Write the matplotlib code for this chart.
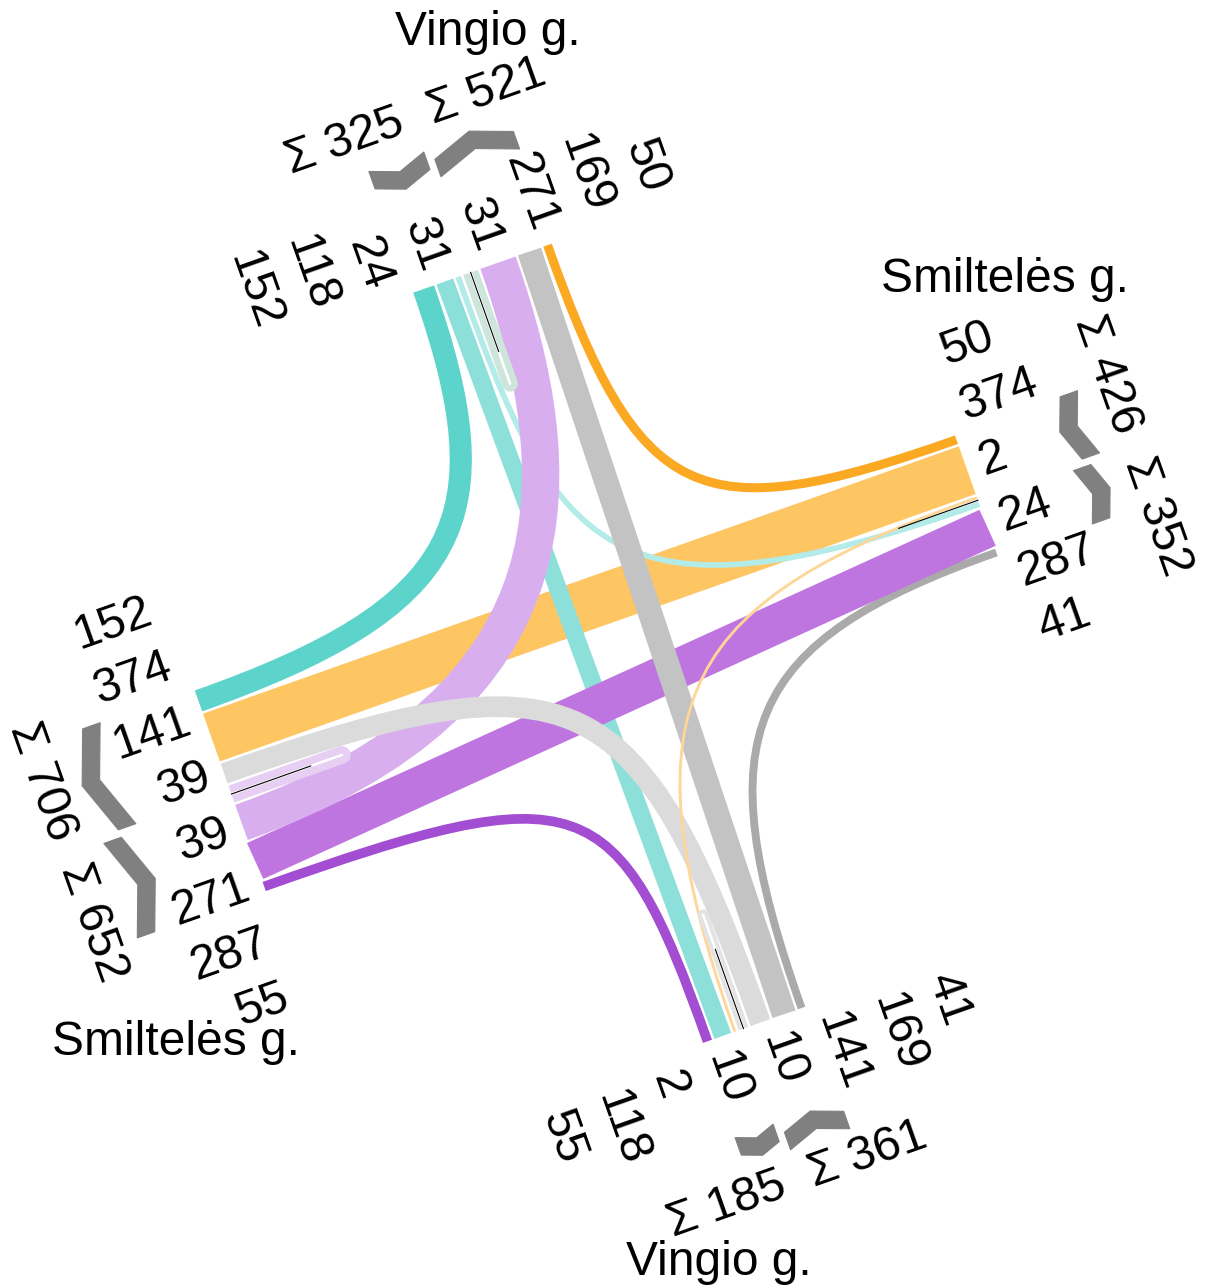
import numpy as np
import matplotlib
matplotlib.use('Agg')
import matplotlib.pyplot as plt
from matplotlib.path import Path
from matplotlib.patches import PathPatch, Polygon

plt.rcParams['font.family'] = ['Liberation Sans', 'DejaVu Sans']

# ── DATA: vehicles per movement (origin arm -> destination arm) ──
origin = ['N', 'N', 'N', 'N', 'E', 'E', 'E', 'S', 'S', 'S', 'S', 'W', 'W', 'W', 'W']
dest   = ['W', 'S', 'E', 'N', 'N', 'W', 'S', 'E', 'N', 'W', 'S', 'S', 'E', 'N', 'W']
volume = [152, 118, 24, 31, 50, 374, 2, 41, 169, 141, 10, 55, 287, 271, 39]
street = {'N': 'Vingio g.', 'E': 'Smiltelės g.', 'S': 'Vingio g.', 'W': 'Smiltelės g.'}

# ── LAYOUT (pixels) ─────────────────────────────
W_PX, H_PX = 1208, 1286
CX, CY = 606.0, 650.8            # junction centre
TILT = np.radians(19.5)          # whole drawing is turned
ARMS = ['N', 'E', 'S', 'W']
EDGE = {'N': 401.9, 'E': 400.8, 'S': 402.0, 'W': 400.9}
START = {'N': -63.5, 'E': -87.8, 'S': -40.8, 'W': -101.1}
NORM = {'N': (0, 1), 'E': (1, 0), 'S': (0, -1), 'W': (-1, 0)}
ALONG = {'N': (1, 0), 'E': (0, -1), 'S': (1, 0), 'W': (0, -1)}
HEAD = {'E': 0, 'N': 90, 'W': 180, 'S': 270}
PAD, PER_VEH, GAP = 5.13, 0.1283, 2.5
FS = 34.5
CAP = 0.716 * FS * 100 / 72
LABEL_STEP = 58.5
LABEL_SHIFT = {'N': 0, 'E': -9, 'S': 3, 'W': 0}
SUM_DIST = {'N': 170, 'E': 168, 'S': 156, 'W': 169}

PALETTE = {
    'N': {'R': '#5cd3cb', 'S': '#8ddfd9', 'L': '#b3ebe9', 'U': '#cde5db'},
    'E': {'R': '#fba823', 'S': '#fec663', 'L': '#fed697'},
    'S': {'R': '#aaaaaa', 'S': '#c3c3c3', 'L': '#dbdbdb', 'U': '#e3e3e3'},
    'W': {'R': '#a24dd2', 'S': '#be75df', 'L': '#d9aeee', 'U': '#e6cff3'},
}
# layering and bend of each movement
ZORD = {('E', 'W'): 2, ('N', 'S'): 3, ('N', 'E'): 4, ('W', 'E'): 5, ('W', 'N'): 6,
        ('S', 'N'): 7, ('S', 'W'): 8, ('E', 'S'): 9}
BEND = {('N', 'W'): (0.78, 0.8), ('E', 'N'): (0.86, 0.86), ('W', 'S'): (0.92, 0.92),
        ('S', 'E'): (0.8, 0.8), ('N', 'E'): (0.75, 0.95), ('W', 'N'): (0.85, 0.5),
        ('S', 'W'): (0.88, 0.88), ('E', 'S'): (0.75, 0.85)}

c, s_ = np.cos(TILT), np.sin(TILT)


def to_img(p):
    p = np.atleast_2d(p)
    return np.column_stack([CX + p[:, 0] * c - p[:, 1] * s_,
                            CY - p[:, 0] * s_ - p[:, 1] * c])


def at(arm, s, t):
    # s along the edge, t = depth inward from the edge
    n, e = np.array(NORM[arm]), np.array(ALONG[arm])
    return n * (EDGE[arm] - t) + e * s


def turn(o, d):
    return {0: 'U', 90: 'R', 180: 'S', 270: 'L'}[(HEAD[d] - HEAD[o]) % 360]


RANK = {'U': 0, 'L': 1, 'S': 2, 'R': 3}
idx = range(len(volume))
slot = [PAD + PER_VEH * v for v in volume]

# ── LANES ON EACH EDGE ──────────────────────────
lane_pos, groups, divider, order = {}, {}, {}, {}
for a in ARMS:
    ins = sorted([i for i in idx if origin[i] == a], key=lambda i: RANK[turn(a, dest[i])])
    outs = sorted([i for i in idx if dest[i] == a], key=lambda i: RANK[turn(origin[i], a)])
    nx, ny = NORM[a]
    ex, ey = ALONG[a]
    in_first = (-ny * ex + nx * ey) < 0
    if in_first:
        seq = [(i, 'in') for i in ins[::-1]] + [(i, 'out') for i in outs]
        first, second = ('in', 'out')
    else:
        seq = [(i, 'out') for i in outs[::-1]] + [(i, 'in') for i in ins]
        first, second = ('out', 'in')
    pos = START[a]
    order[a] = seq
    n_first = len(ins) if in_first else len(outs)
    for k, (i, role) in enumerate(seq):
        lane_pos[(i, role)] = pos + slot[i] / 2
        pos += slot[i]
        if k == n_first - 1:
            divider[a] = pos
    groups[a] = [(first, START[a], divider[a]), (second, divider[a], pos)]

fig = plt.figure(figsize=(W_PX / 100, H_PX / 100), dpi=100)
ax = fig.add_axes([0, 0, 1, 1])
ax.set_xlim(0, W_PX)
ax.set_ylim(H_PX, 0)
ax.axis('off')

# ── FLOW BANDS ─────────────────────────────────
for i in idx:
    o, d = origin[i], dest[i]
    kind = turn(o, d)
    col = PALETTE[o][kind]
    w = (slot[i] - GAP) * 0.72
    if kind == 'U':
        s_in, s_out = lane_pos[(i, 'in')], lane_pos[(i, 'out')]
        r = abs(s_out - s_in) / 2
        sm = (s_in + s_out) / 2
        sg = np.sign(s_out - s_in)
        depth = 126 - (slot[i] - GAP) / 2 - r
        phi = np.linspace(np.pi, 0, 30)
        pts = [at(o, s_in, 0)] + [at(o, sm + sg * r * np.cos(p), depth + r * np.sin(p)) for p in phi] \
            + [at(o, s_out, 0)]
        ax.plot(*to_img(np.array(pts)).T, color=col, lw=w, solid_capstyle='butt',
                solid_joinstyle='round', zorder=10)
        continue
    p0 = at(o, lane_pos[(i, 'in')], 0)
    p3 = at(d, lane_pos[(i, 'out')], 0)
    if kind == 'S':
        p1, p2 = p0 + (p3 - p0) / 3, p0 + 2 * (p3 - p0) / 3
    else:
        din = -np.array(NORM[o], float)
        corner = p0 + np.dot(p3 - p0, din) * din
        k0, k1 = BEND[(o, d)]
        p1, p2 = p0 + k0 * (corner - p0), p3 + k1 * (corner - p3)
    verts = to_img(np.array([p0, p1, p2, p3]))
    path = Path(verts, [Path.MOVETO, Path.CURVE4, Path.CURVE4, Path.CURVE4])
    ax.add_patch(PathPatch(path, facecolor='none', edgecolor=col, lw=w,
                           capstyle='butt', zorder=ZORD.get((o, d), 1)))

# ── DIVIDERS, SYMBOLS, LABELS ──────────────────
for a in ARMS:
    n = np.array(NORM[a], float)
    e = np.array(ALONG[a], float)
    ns = a in ('N', 'S')
    # centre line stub
    ax.plot(*to_img(np.array([at(a, divider[a], 0), at(a, divider[a], 84)])).T,
            color='black', lw=0.8, zorder=11)

    # lane numbers
    read = np.array([0.0, -1.0]) if ns else np.array([1.0, 0.0])
    up = np.array([-read[1], read[0]])
    rot = -70.5 if ns else 19.5
    ha = 'left' if np.dot(read, n) > 0 else 'right'
    seq = order[a]
    m = len(seq)
    for k, (i, role) in enumerate(seq):
        sk = divider[a] + LABEL_SHIFT[a] + (k - (m - 1) / 2) * LABEL_STEP
        p = n * (EDGE[a] + 15) + e * sk - up * CAP / 2
        x, y = to_img(p)[0]
        ax.text(x, y, str(volume[i]), fontsize=FS, rotation=rot, rotation_mode='anchor',
                ha=ha, va='baseline', zorder=12)

    # sums and lane-direction symbols
    srot = 19.5 if ns else -70.5
    sup = np.array([-e[1], e[0]])
    for gi, (role, g0, g1) in enumerate(groups[a]):
        members = [i for (i, r) in order[a] if r == role]
        total = sum(volume[i] for i in members)
        sc = divider[a] + (-75 if gi == 0 else 75)
        p = n * (EDGE[a] + SUM_DIST[a]) + e * sc - sup * CAP / 2
        x, y = to_img(p)[0]
        ax.text(x, y, f'Σ {total}', fontsize=FS, rotation=srot, rotation_mode='anchor',
                ha='center', va='baseline', zorder=12)

        a0, a1 = (g0, g1 - 4) if gi == 0 else (g0 + 4, g1)
        mid = (a0 + a1) / 2
        dd = (a1 - a0) / 2 * np.tan(np.radians(20))
        th = 18.5
        if role == 'out':
            inner = [(a0, 100), (mid, 100 + dd), (a1, 100)]
        else:
            inner = [(a0, 100 + dd), (mid, 100), (a1, 100 + dd)]
        outer = [(sv, tv + th) for sv, tv in inner[::-1]]
        poly = [n * (EDGE[a] + tv) + e * sv for sv, tv in inner + outer]
        ax.add_patch(Polygon(to_img(np.array(poly)), closed=True, facecolor='#808080',
                             edgecolor='#808080', lw=0.8, joinstyle='round', zorder=12))

# street names
name_xy = {'N': (488, 45), 'E': (1005, 292), 'W': (176, 1055), 'S': (719, 1275)}
for a in ARMS:
    ax.text(*name_xy[a], street[a], fontsize=FS, ha='center', va='baseline', zorder=12)

fig.savefig('out.png', dpi=100, facecolor='white')
